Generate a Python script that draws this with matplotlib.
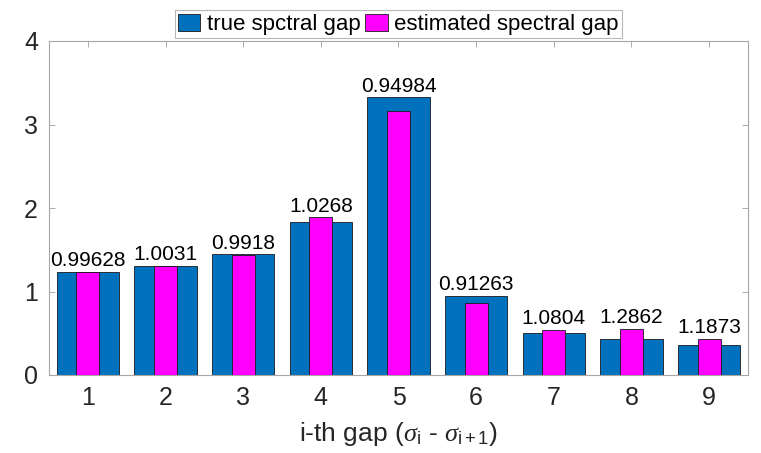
import matplotlib
matplotlib.use("Agg")
import matplotlib.pyplot as plt
import numpy as np

plt.rcParams['font.family'] = ['Liberation Sans', 'DejaVu Sans']
plt.rcParams['mathtext.fontset'] = 'custom'
plt.rcParams['mathtext.rm'] = 'Liberation Sans'
plt.rcParams['mathtext.it'] = 'Liberation Serif:italic'

gaps = [1, 2, 3, 4, 5, 6, 7, 8, 9]
true_gap = [1.233, 1.305, 1.445, 1.838, 3.326, 0.946, 0.500, 0.427, 0.363]
est_gap = [1.228, 1.309, 1.433, 1.887, 3.159, 0.863, 0.540, 0.549, 0.431]
ratio_labels = ['0.99628', '1.0031', '0.9918', '1.0268', '0.94984',
                '0.91263', '1.0804', '1.2862', '1.1873']

fig = plt.figure(figsize=(7.61, 4.53), dpi=100)
ax = fig.add_axes([49/761, 1 - 375/453, (748-49)/761, (375-41)/453])

ax.bar(gaps, true_gap, width=0.8, color='#0072BD', edgecolor='#1a1a1a',
       linewidth=0.6, label='true spctral gap', zorder=2)
ax.bar(gaps, est_gap, width=0.3, color='#FF00FF', edgecolor='#1a1a1a',
       linewidth=0.6, label='estimated spectral gap', zorder=3)

for x, t, e, s in zip(gaps, true_gap, est_gap, ratio_labels):
    ax.text(x, max(t, e) + 0.02, s, ha='center', va='bottom', fontsize=15,
            color='#000000')

ax.set_xlim(0.5, 9.5)
ax.set_ylim(0, 4)
ax.set_xticks(gaps)
ax.set_yticks([0, 1, 2, 3, 4])
ax.tick_params(direction='in', top=True, right=True, length=4, width=0.6,
               color='#a0a0a0', labelsize=18, labelcolor='#262626', pad=8)
for sp in ax.spines.values():
    sp.set_color('#a6a6a6')
    sp.set_linewidth(0.8)

ax.set_xlabel(r'i-th gap ($\sigma_{\rm i}$ - $\sigma_{\rm i+1}$)', fontsize=19,
              color='#262626', labelpad=7)

leg = ax.legend(loc='lower center', bbox_to_anchor=(0.5, 1.008), ncol=2,
                fontsize=16, frameon=True, fancybox=False, borderpad=0.15,
                handlelength=1.0, handleheight=0.8, handletextpad=0.3,
                columnspacing=0.2, borderaxespad=0.0)
leg.get_frame().set_edgecolor('#a6a6a6')
leg.get_frame().set_linewidth(0.8)

fig.savefig('out.png', dpi=100)
